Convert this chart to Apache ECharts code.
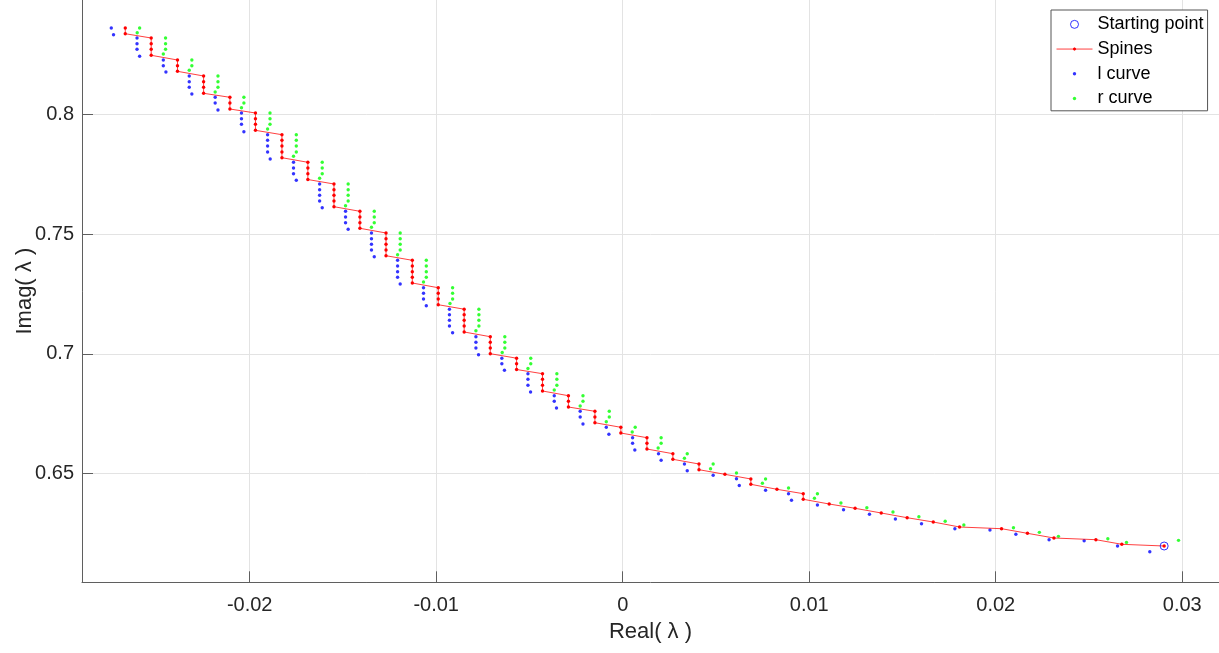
<!DOCTYPE html>
<html>
<head>
<meta charset="utf-8">
<script src="https://cdn.jsdelivr.net/npm/echarts@6/dist/echarts.min.js"></script>
<style>
  html, body { margin: 0; padding: 0; background: #ffffff; }
  #chart { width: 1219px; height: 653px; }
</style>
</head>
<body>
<div id="chart"></div>
<script>
// Traced spine of the eigenvalue curve, [Real, Imag]
const spine = [
  [-0.02667,0.83627],[-0.02667,0.83388],
  [-0.02528,0.83208],[-0.02528,0.82970],[-0.02528,0.82736],[-0.02528,0.82485],
  [-0.02387,0.82288],[-0.02387,0.82050],[-0.02387,0.81815],
  [-0.02247,0.81619],[-0.02247,0.81380],[-0.02247,0.81146],[-0.02247,0.80895],
  [-0.02106,0.80728],[-0.02106,0.80489],[-0.02106,0.80238],
  [-0.01969,0.80071],[-0.01969,0.79833],[-0.01969,0.79598],[-0.01969,0.79347],
  [-0.01827,0.79163],[-0.01827,0.78929],[-0.01827,0.78691],[-0.01827,0.78440],[-0.01827,0.78201],
  [-0.01688,0.78009],[-0.01688,0.77770],[-0.01688,0.77532],[-0.01688,0.77289],
  [-0.01548,0.77101],[-0.01548,0.76863],[-0.01548,0.76629],[-0.01548,0.76390],[-0.01548,0.76152],
  [-0.01409,0.75959],[-0.01409,0.75721],[-0.01409,0.75482],[-0.01409,0.75248],
  [-0.01269,0.75052],[-0.01269,0.74813],[-0.01269,0.74579],[-0.01269,0.74341],[-0.01269,0.74102],
  [-0.01128,0.73910],[-0.01128,0.73671],[-0.01128,0.73433],[-0.01128,0.73199],[-0.01128,0.72960],
  [-0.00989,0.72763],[-0.00989,0.72529],[-0.00989,0.72291],[-0.00989,0.72052],
  [-0.00850,0.71864],[-0.00850,0.71634],[-0.00850,0.71400],[-0.00850,0.71161],[-0.00850,0.70911],
  [-0.00710,0.70714],[-0.00710,0.70480],[-0.00710,0.70241],[-0.00710,0.70003],
  [-0.00569,0.69815],[-0.00569,0.69580],[-0.00569,0.69342],
  [-0.00430,0.69166],[-0.00430,0.68932],[-0.00430,0.68681],[-0.00430,0.68443],
  [-0.00291,0.68246],[-0.00291,0.68012],[-0.00291,0.67773],
  [-0.00149,0.67593],[-0.00149,0.67355],[-0.00149,0.67116],
  [-0.00010,0.66924],[-0.00010,0.66686],
  [0.00130,0.66489],[0.00130,0.66255],[0.00130,0.66016],
  [0.00269,0.65820],[0.00269,0.65586],
  [0.00409,0.65389],[0.00409,0.65151],
  [0.00548,0.64958],
  [0.00687,0.64762],[0.00687,0.64540],
  [0.00827,0.64331],
  [0.00968,0.64147],[0.00968,0.63913],
  [0.01107,0.63716],[0.01246,0.63536],[0.01386,0.63340],[0.01525,0.63143],[0.01665,0.62963],
  [0.01806,0.62754],[0.02031,0.62683],[0.02170,0.62490],[0.02312,0.62294],[0.02537,0.62223],
  [0.02676,0.62030],[0.02903,0.61959]
];

// Left-hand offset curve
const lCurve = [
  [-0.02742,0.83627],[-0.02730,0.83346],
  [-0.02604,0.83208],[-0.02604,0.82970],[-0.02604,0.82736],[-0.02590,0.82443],
  [-0.02463,0.82288],[-0.02463,0.82050],[-0.02449,0.81786],
  [-0.02324,0.81619],[-0.02324,0.81380],[-0.02324,0.81146],[-0.02310,0.80866],
  [-0.02185,0.80728],[-0.02185,0.80489],[-0.02170,0.80197],
  [-0.02044,0.80071],[-0.02044,0.79833],[-0.02044,0.79598],[-0.02031,0.79289],
  [-0.01904,0.79163],[-0.01904,0.78929],[-0.01904,0.78691],[-0.01904,0.78440],[-0.01890,0.78147],
  [-0.01765,0.78009],[-0.01765,0.77770],[-0.01765,0.77532],[-0.01750,0.77256],
  [-0.01625,0.77101],[-0.01625,0.76863],[-0.01625,0.76629],[-0.01625,0.76390],[-0.01611,0.76110],
  [-0.01486,0.75959],[-0.01486,0.75721],[-0.01486,0.75482],[-0.01472,0.75206],
  [-0.01347,0.75052],[-0.01347,0.74813],[-0.01347,0.74579],[-0.01347,0.74341],[-0.01332,0.74060],
  [-0.01207,0.73910],[-0.01207,0.73671],[-0.01207,0.73433],[-0.01207,0.73199],[-0.01193,0.72918],
  [-0.01068,0.72763],[-0.01068,0.72529],[-0.01068,0.72291],[-0.01053,0.72011],
  [-0.00929,0.71864],[-0.00929,0.71634],[-0.00929,0.71400],[-0.00929,0.71161],[-0.00912,0.70881],
  [-0.00787,0.70714],[-0.00787,0.70480],[-0.00787,0.70241],[-0.00773,0.69961],
  [-0.00648,0.69815],[-0.00648,0.69580],[-0.00634,0.69309],
  [-0.00508,0.69166],[-0.00508,0.68932],[-0.00508,0.68681],[-0.00494,0.68401],
  [-0.00367,0.68246],[-0.00367,0.68012],[-0.00355,0.67731],
  [-0.00228,0.67593],[-0.00228,0.67355],[-0.00213,0.67062],
  [-0.00088,0.66924],[-0.00074,0.66631],
  [0.00053,0.66489],[0.00053,0.66255],[0.00065,0.65975],
  [0.00192,0.65820],[0.00206,0.65544],
  [0.00331,0.65389],[0.00346,0.65109],
  [0.00485,0.64916],
  [0.00610,0.64770],[0.00625,0.64490],
  [0.00766,0.64289],
  [0.00889,0.64147],[0.00905,0.63871],
  [0.01044,0.63674],[0.01184,0.63478],[0.01323,0.63285],[0.01462,0.63089],[0.01602,0.62892],
  [0.01781,0.62683],[0.01969,0.62628],[0.02108,0.62449],[0.02286,0.62223],[0.02474,0.62181],
  [0.02653,0.61959],[0.02826,0.61721]
];

// Right-hand offset curve
const rCurve = [
  [-0.02590,0.83627],[-0.02603,0.83430],
  [-0.02451,0.83208],[-0.02451,0.82970],[-0.02451,0.82736],[-0.02463,0.82539],
  [-0.02310,0.82288],[-0.02310,0.82050],[-0.02324,0.81857],
  [-0.02170,0.81619],[-0.02170,0.81380],[-0.02170,0.81146],[-0.02185,0.80950],
  [-0.02031,0.80728],[-0.02031,0.80489],[-0.02044,0.80293],
  [-0.01891,0.80071],[-0.01891,0.79833],[-0.01891,0.79598],[-0.01904,0.79402],
  [-0.01750,0.79163],[-0.01750,0.78929],[-0.01750,0.78691],[-0.01750,0.78440],[-0.01765,0.78260],
  [-0.01611,0.78009],[-0.01611,0.77770],[-0.01611,0.77532],[-0.01625,0.77340],
  [-0.01472,0.77101],[-0.01472,0.76863],[-0.01472,0.76629],[-0.01472,0.76390],[-0.01486,0.76194],
  [-0.01332,0.75959],[-0.01332,0.75721],[-0.01332,0.75482],[-0.01347,0.75290],
  [-0.01193,0.75052],[-0.01193,0.74813],[-0.01193,0.74579],[-0.01193,0.74341],[-0.01207,0.74144],
  [-0.01053,0.73910],[-0.01053,0.73671],[-0.01053,0.73433],[-0.01053,0.73199],[-0.01068,0.73002],
  [-0.00912,0.72763],[-0.00912,0.72529],[-0.00912,0.72291],[-0.00926,0.72103],
  [-0.00771,0.71864],[-0.00771,0.71634],[-0.00771,0.71400],[-0.00771,0.71161],[-0.00787,0.70965],
  [-0.00632,0.70714],[-0.00632,0.70480],[-0.00632,0.70241],[-0.00646,0.70053],
  [-0.00493,0.69815],[-0.00493,0.69580],[-0.00508,0.69384],
  [-0.00353,0.69166],[-0.00353,0.68932],[-0.00353,0.68681],[-0.00367,0.68484],
  [-0.00213,0.68246],[-0.00213,0.68012],[-0.00228,0.67815],
  [-0.00072,0.67593],[-0.00072,0.67355],[-0.00088,0.67158],
  [0.00067,0.66924],[0.00051,0.66728],
  [0.00206,0.66489],[0.00206,0.66255],[0.00190,0.66058],
  [0.00346,0.65820],[0.00331,0.65627],
  [0.00485,0.65389],[0.00471,0.65193],
  [0.00610,0.65013],
  [0.00766,0.64762],[0.00749,0.64582],
  [0.00889,0.64385],
  [0.01044,0.64147],[0.01028,0.63954],
  [0.01170,0.63758],[0.01309,0.63561],[0.01449,0.63381],[0.01588,0.63185],[0.01729,0.62997],
  [0.01829,0.62835],[0.02095,0.62723],[0.02234,0.62530],[0.02336,0.62363],[0.02601,0.62262],
  [0.02701,0.62111],[0.02980,0.62195]
];

const startPoint = [[0.02903, 0.61959]];

const xTicks = [-0.02, -0.01, 0, 0.01, 0.02, 0.03];
const yTicks = [0.65, 0.7, 0.75, 0.8];
const xRange = [-0.02899, 0.03197];
const yRange = [0.60441, 0.84798];

const FONT = '"Liberation Sans", Arial, Helvetica, sans-serif';
const AXIS_COLOR = '#5f5f5f';
const TEXT_COLOR = '#262626';
const GRID_COLOR = '#e3e3e3';

const chart = echarts.init(document.getElementById('chart'), null, { renderer: 'canvas' });

function axisCommon(ticks) {
  return {
    type: 'value',
    axisLine: { show: true, onZero: false, lineStyle: { color: AXIS_COLOR, width: 1 } },
    axisTick: { show: true, inside: true, length: 11, customValues: ticks,
                lineStyle: { color: AXIS_COLOR, width: 1 } },
    axisLabel: { customValues: ticks, color: TEXT_COLOR, fontSize: 20, fontFamily: FONT },
    splitLine: { show: true, lineStyle: { color: GRID_COLOR, width: 1 } },
    minorTick: { show: false },
    nameTextStyle: { color: TEXT_COLOR, fontSize: 22, fontFamily: FONT },
    nameLocation: 'middle',
    nameMoveOverlap: false
  };
}

const xAxis = axisCommon(xTicks);
Object.assign(xAxis, { min: xRange[0], max: xRange[1], name: 'Real( λ )', nameGap: 39 });
xAxis.axisLabel.margin = 13;

const yAxis = axisCommon(yTicks);
Object.assign(yAxis, { min: yRange[0], max: yRange[1], name: 'Imag( λ )', nameGap: 46 });
yAxis.axisLabel.margin = 8;

const dotIcon = 'path://M0 0M8 8M2.3 4a1.7 1.7 0 1 0 3.4 0a1.7 1.7 0 1 0 -3.4 0';
const spineIcon = 'path://M0 4L36 4M16.8 4a1.2 1.2 0 1 0 2.4 0a1.2 1.2 0 1 0 -2.4 0';

chart.setOption({
  animation: false,
  backgroundColor: '#ffffff',
  grid: { left: 82, right: 0, top: 0, bottom: 70.7, containLabel: false, outerBoundsMode: 'none' },
  xAxis: xAxis,
  yAxis: yAxis,
  legend: {
    orient: 'vertical',
    left: 1051,
    top: 10,
    itemWidth: 36,
    itemHeight: 8,
    itemGap: 0,
    padding: [2, 4, 0, 5],
    backgroundColor: '#ffffff',
    borderColor: '#555555',
    borderWidth: 1,
    borderRadius: 0,
    selectedMode: false,
    textStyle: { color: '#000000', fontSize: 18, fontFamily: FONT, lineHeight: 24.7 },
    data: [
      { name: 'Starting point', icon: 'circle',
        itemStyle: { color: 'rgba(0,0,0,0)', borderColor: '#0000ff', borderWidth: 1 } },
      { name: 'Spines', icon: spineIcon,
        itemStyle: { color: '#ff0000', borderColor: 'rgba(255,0,0,0.75)', borderWidth: 1 } },
      { name: 'l curve', icon: dotIcon,
        itemStyle: { color: '#0000ff', borderWidth: 0 } },
      { name: 'r curve', icon: dotIcon,
        itemStyle: { color: '#00ff00', borderWidth: 0 } }
    ]
  },
  series: [
    {
      name: 'l curve', type: 'scatter', data: lCurve,
      symbol: 'circle', symbolSize: 3.4,
      itemStyle: { color: '#0000ff' }, z: 2
    },
    {
      name: 'r curve', type: 'scatter', data: rCurve,
      symbol: 'circle', symbolSize: 3.4,
      itemStyle: { color: '#00ff00' }, z: 2
    },
    {
      name: 'Spines', type: 'line', data: spine,
      showSymbol: true, symbol: 'circle', symbolSize: 3.4,
      lineStyle: { color: 'rgba(255,0,0,0.75)', width: 1 },
      itemStyle: { color: '#ff0000' }, z: 3
    },
    {
      name: 'Starting point', type: 'scatter', data: startPoint,
      symbol: 'circle', symbolSize: 8,
      itemStyle: { color: 'rgba(0,0,0,0)', borderColor: '#0000ff', borderWidth: 1 }, z: 4
    }
  ]
});
</script>
</body>
</html>
